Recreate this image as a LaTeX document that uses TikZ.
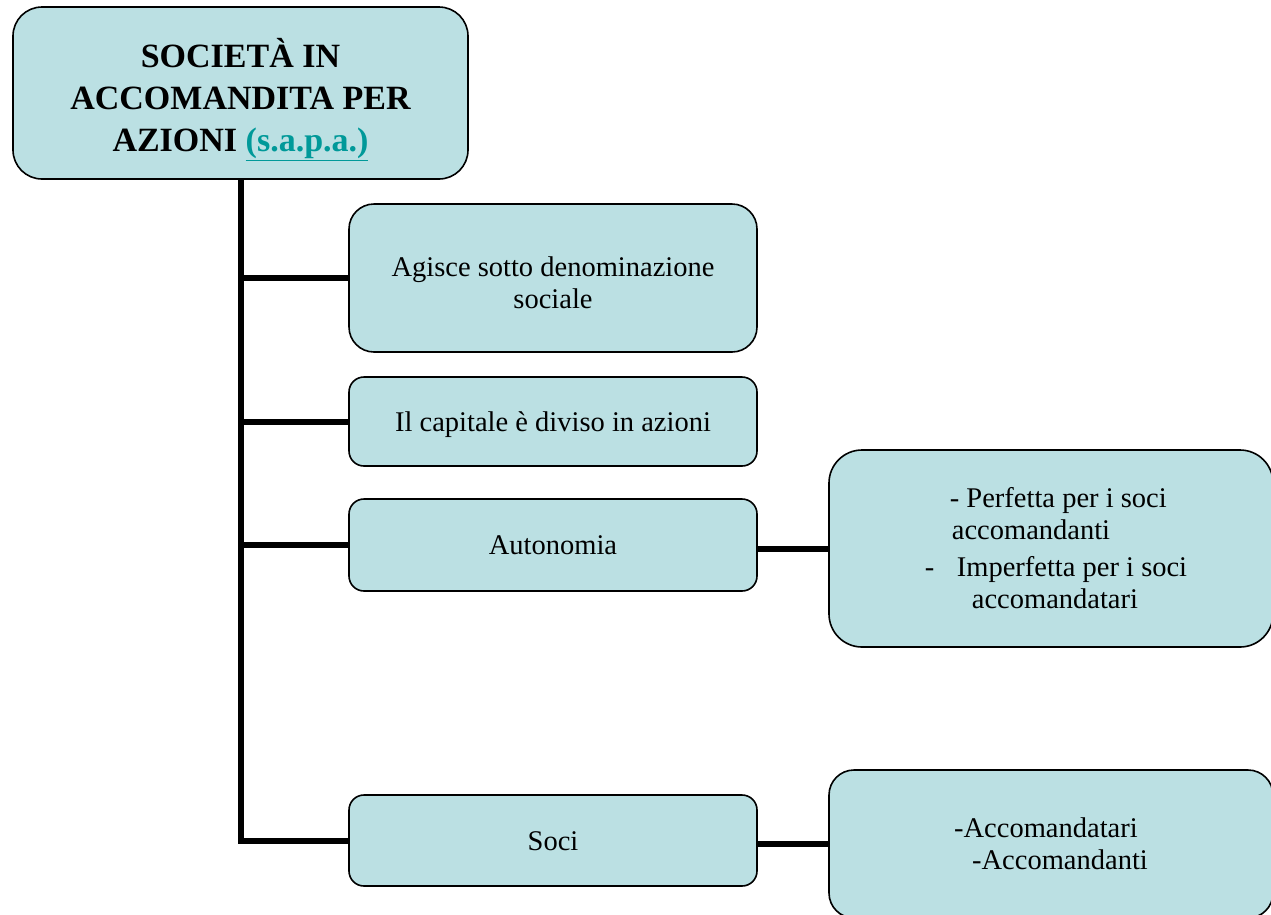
\documentclass[tikz,border=0pt]{standalone}
\usepackage{fontspec}
\setmainfont{Liberation Serif}
\usetikzlibrary{positioning}
\definecolor{boxfill}{HTML}{BBE0E3}
\definecolor{linkcol}{HTML}{009999}

\begin{document}
\begin{tikzpicture}[
        x=1pt, y=-1pt,
        box/.style={draw=black, line width=1.6pt, fill=boxfill, align=center,
            font=\fontsize{28.5}{32}\selectfont, inner sep=0pt},
        smallbox/.style={box, minimum width=408pt, rounded corners=15pt},
        oneline/.style={text height=27pt, text depth=8pt},
        bigbox/.style={box, minimum width=444pt},
        conn/.style={line width=6pt, black}
    ]
        \useasboundingbox (0,0) rectangle (1271,914);
        \clip (0,0) rectangle (1271,914);

        % Riquadro principale
        \node [box, minimum width=455pt, minimum height=172pt, rounded corners=29pt,
            font=\fontsize{34}{42}\selectfont\bfseries] (sapa) at (240.5,93)
            {\rule{0pt}{43pt}SOCIETÀ IN\\ACCOMANDITA PER\\AZIONI \textcolor{linkcol}{\underline{(s.a.p.a.)}}};

        % Caratteristiche
        \node [smallbox, minimum height=148pt, rounded corners=25pt] (agisce) at (553,278)
            {\rule{0pt}{30pt}Agisce sotto denominazione\\sociale};
        \node [smallbox, oneline, minimum height=89pt] (capitale) at (553,421.5)
            {Il capitale è diviso in azioni};
        \node [smallbox, oneline, minimum height=92pt] (autonomia) at (553,545) {Autonomia};
        \node [smallbox, oneline, minimum height=91pt] (soci) at (553,840.5) {Soci};

        % Dettagli
        \node [bigbox, minimum height=197pt, rounded corners=33pt, align=left] (perfetta) at (1051,548.5)
            {\hspace*{35pt}- Perfetta per i soci\\
             \hspace*{37pt}accomandanti\\[5pt]
             \hspace*{10pt}-\hspace*{22.5pt}Imperfetta per i soci\\
             \hspace*{57pt}accomandatari};
        \node [bigbox, minimum height=148pt, rounded corners=25pt, align=left] (accom) at (1051,844)
            {-Accomandatari\\\hspace*{18pt}-Accomandanti};

        % Collegamenti
        \draw[conn] (sapa.south) |- (soci.west);
        \draw[conn] (sapa.south |- agisce.west) -- (agisce.west);
        \draw[conn] (sapa.south |- capitale.west) -- (capitale.west);
        \draw[conn] (sapa.south |- autonomia.west) -- (autonomia.west);
        \draw[conn] (perfetta.west -| autonomia.east) -- (perfetta.west);
        \draw[conn] (accom.west -| soci.east) -- (accom.west);
    \end{tikzpicture}
\end{document}
